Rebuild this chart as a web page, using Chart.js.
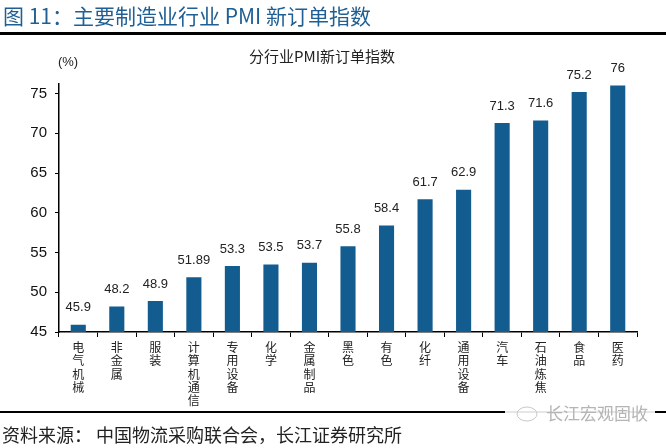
<!DOCTYPE html>
<html><head><meta charset="utf-8">
<script src="https://cdn.jsdelivr.net/npm/chart.js@4/dist/chart.umd.min.js"></script>
<style>html,body{margin:0;padding:0;background:#fff;}#wrap{width:666px;height:448px;position:relative;}</style>
</head><body><div id="wrap"><canvas id="c" width="666" height="448"></canvas></div>
<script>
const categories = ['电气机械','非金属','服装','计算机通信','专用设备','化学','金属制品','黑色','有色','化纤','通用设备','汽车','石油炼焦','食品','医药'];
const values = [45.9, 48.2, 48.9, 51.89, 53.3, 53.5, 53.7, 55.8, 58.4, 61.7, 62.9, 71.3, 71.6, 75.2, 76];
const valueLabels = ['45.9','48.2','48.9','51.89','53.3','53.5','53.7','55.8','58.4','61.7','62.9','71.3','71.6','75.2','76'];
const yTicks = [45, 50, 55, 60, 65, 70, 75];
const pageTitle = '图 11：主要制造业行业 PMI 新订单指数';
const chartTitle = '分行业PMI新订单指数';
const unitLabel = '(%)';
const sourceText = '资料来源： 中国物流采购联合会，长江证券研究所';
const watermark = '长江宏观固收';

const CJK = '"Noto Sans CJK SC", "Liberation Sans", sans-serif';
const deco = {
  id: 'deco',
  afterDraw(chart) {
    const ctx = chart.ctx;
    ctx.save();
    ctx.fillStyle = '#1f5f94';
    ctx.font = '21px ' + CJK;
    ctx.textBaseline = 'alphabetic';
    ctx.textAlign = 'left';
    ctx.fillText(pageTitle, 3, 24);
    ctx.fillStyle = '#000';
    ctx.fillRect(0, 32, 666, 3);
    ctx.fillRect(0, 411, 666, 2);
    ctx.fillStyle = '#222';
    ctx.font = '18px ' + CJK;
    ctx.fillText(sourceText, 2, 442);
    ctx.font = '15px ' + CJK;
    ctx.textAlign = 'center';
    ctx.fillText(chartTitle, 322, 62);
    ctx.font = '13px "Liberation Sans", Arial, sans-serif';
    ctx.fillText(unitLabel, 68, 66);
    // watermark
    ctx.fillStyle = 'rgba(255,255,255,0.9)';
    ctx.fillRect(505, 404, 150, 18);
    ctx.fillStyle = '#b5b5b5';
    ctx.font = '17px ' + CJK;
    ctx.textAlign = 'left';
    ctx.fillText(watermark, 546, 420);
    ctx.strokeStyle = '#c8c8c8';
    ctx.lineWidth = 1;
    ctx.beginPath(); ctx.ellipse(527, 414, 10, 7, 0, 0, Math.PI * 2); ctx.stroke();
    // value labels
    const meta = chart.getDatasetMeta(0);
    ctx.fillStyle = '#222';
    ctx.font = '13px "Liberation Sans", Arial, sans-serif';
    ctx.textAlign = 'center';
    ctx.textBaseline = 'middle';
    meta.data.forEach((bar, i) => {
      ctx.fillText(valueLabels[i], bar.x, bar.y - 17);
    });
    ctx.restore();
  }
};

new Chart(document.getElementById('c'), {
  type: 'bar',
  data: {
    labels: categories.map(s => s.split('')),
    datasets: [{ data: values, backgroundColor: '#125c8f', barPercentage: 0.8, categoryPercentage: 0.49 }]
  },
  options: {
    responsive: false,
    animation: false,
    events: [],
    layout: { padding: { top: 84, left: 0, right: 29, bottom: 36 } },
    plugins: { legend: { display: false }, tooltip: { enabled: false }, title: { display: false } },
    scales: {
      x: {
        offset: true,
        grid: { display: true, offset: true, drawOnChartArea: false, drawTicks: true, tickLength: 5, color: '#000', lineWidth: 1 },
        border: { display: true, color: '#000', width: 1.5 },
        ticks: { color: '#222', font: { family: CJK, size: 12, lineHeight: 1.1 }, padding: 4, maxRotation: 0, autoSkip: false },
        afterFit(s) { s.height = 80; }
      },
      y: {
        min: 45, max: 76.2,
        afterBuildTicks(s) { s.ticks = yTicks.map(v => ({ value: v })); },
        grid: { display: true, drawOnChartArea: false, drawTicks: true, tickLength: 4, color: '#000' },
        border: { display: true, color: '#000', width: 1.5 },
        ticks: { color: '#111', font: { family: '"Liberation Sans", Arial, sans-serif', size: 15 }, padding: 8 },
        afterFit(s) { s.width = 59; }
      }
    }
  },
  plugins: [deco]
});
</script></body></html>
